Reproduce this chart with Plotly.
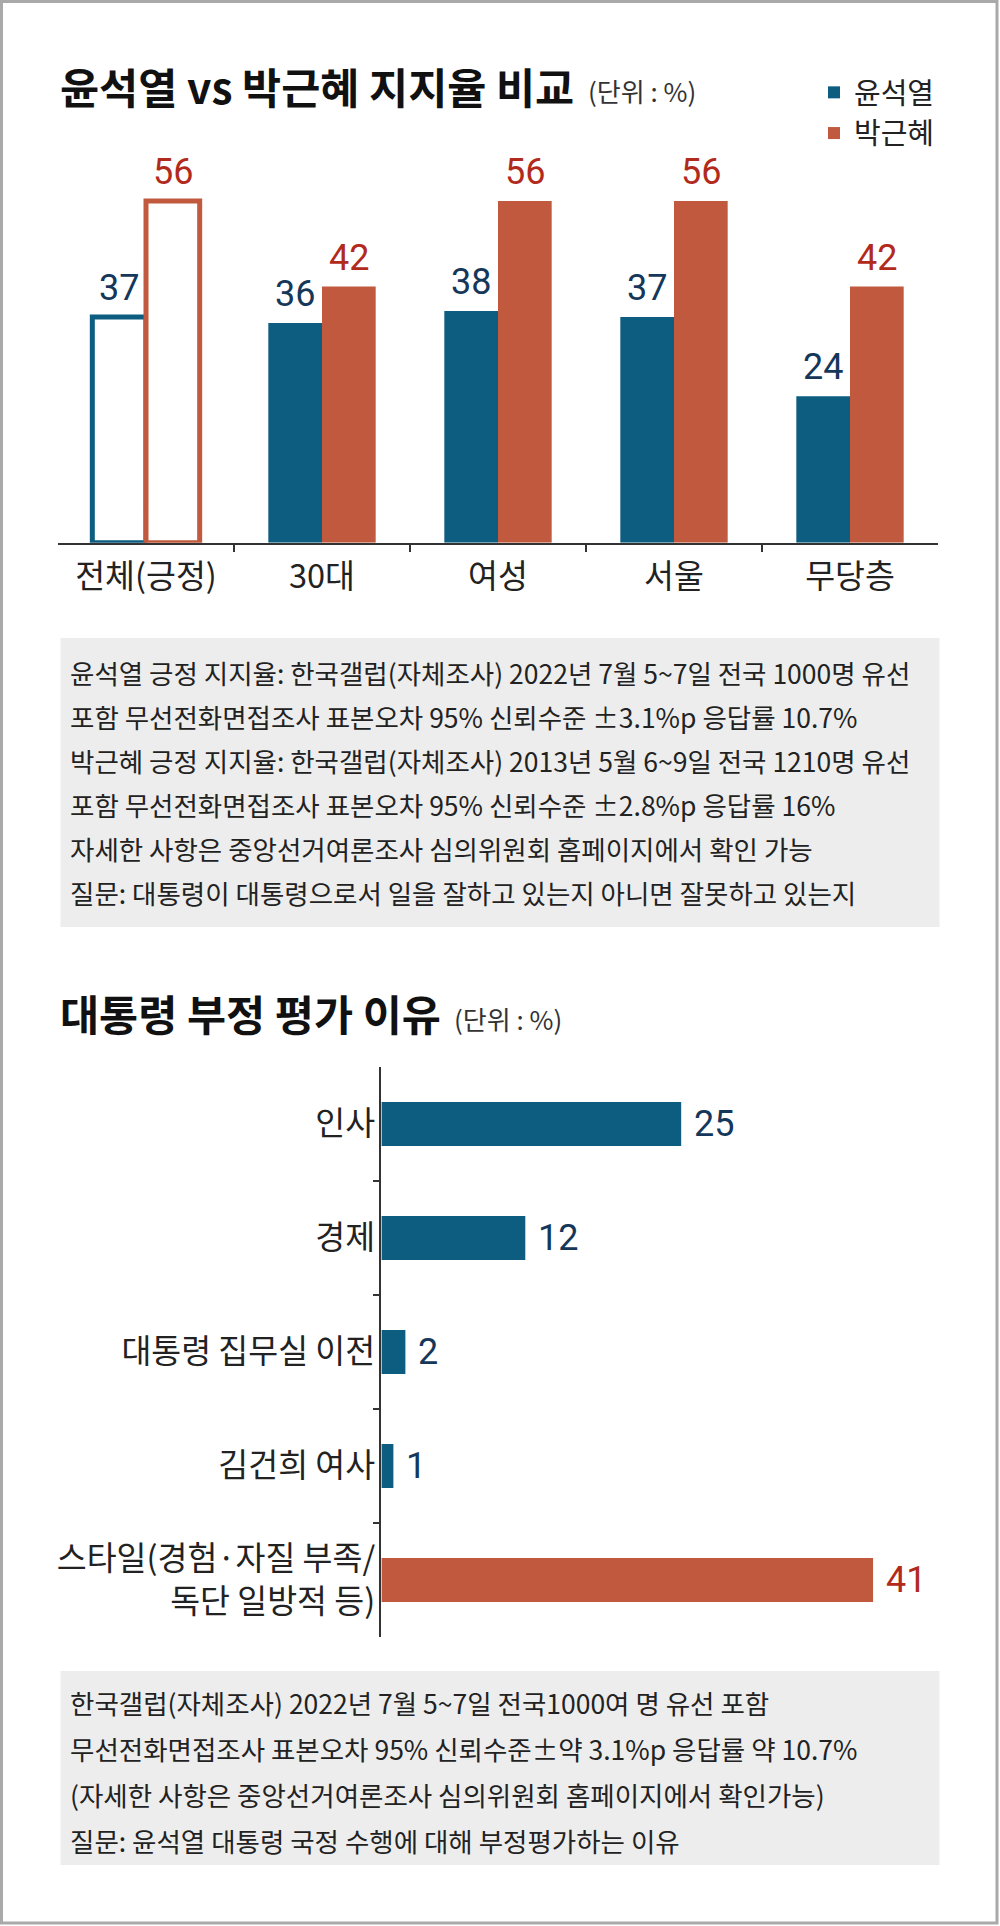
import plotly.graph_objects as go

W, H = 1000, 1926

# ---------------- data ----------------
categories = ["전체(긍정)", "30대", "여성", "서울", "무당층"]
series_names = ["윤석열", "박근혜"]
yoon_values = [37, 36, 38, 37, 24]
park_values = [56, 42, 56, 56, 42]

reasons = ["인사", "경제", "대통령 집무실 이전", "김건희 여사",
           "스타일(경험·자질 부족/<br>독단 일방적 등)"]
reason_values = [25, 12, 2, 1, 41]

title_top = "윤석열 vs 박근혜 지지율 비교"
title_bottom = "대통령 부정 평가 이유"
unit_text = "(단위 : %)"

notes_top = [
    "윤석열 긍정 지지율: 한국갤럽(자체조사) 2022년 7월 5~7일 전국 1000명 유선",
    "포함 무선전화면접조사 표본오차 95% 신뢰수준 ±3.1%p 응답률 10.7%",
    "박근혜 긍정 지지율: 한국갤럽(자체조사) 2013년 5월 6~9일 전국 1210명 유선",
    "포함 무선전화면접조사 표본오차 95% 신뢰수준 ±2.8%p 응답률 16%",
    "자세한 사항은 중앙선거여론조사 심의위원회 홈페이지에서 확인 가능",
    "질문: 대통령이 대통령으로서 일을 잘하고 있는지 아니면 잘못하고 있는지",
]
notes_bottom = [
    "한국갤럽(자체조사) 2022년 7월 5~7일 전국1000여 명 유선 포함",
    "무선전화면접조사 표본오차 95% 신뢰수준±약 3.1%p 응답률 약 10.7%",
    "(자세한 사항은 중앙선거여론조사 심의위원회 홈페이지에서 확인가능)",
    "질문: 윤석열 대통령 국정 수행에 대해 부정평가하는 이유",
]

# ---------------- style ----------------
KR = "Noto Sans CJK KR"
NUM = "Roboto, DejaVu Sans, sans-serif"
BLUE = "#0c5d80"
ORANGE = "#c0593d"
BLUE_TXT = "#15375a"
RED_TXT = "#b12a1c"
DARK = "#222222"
AXIS = "#333333"
NOTE_BG = "#ededed"
BARGAP_TOP = 0.39


def px(x):
    return x / W


def py(y):
    return 1 - y / H


fig = go.Figure()

# ---------- top chart: grouped vertical bars ----------
idx = list(range(len(categories)))
# first category drawn as outlined bars, the rest filled
fig.add_trace(go.Bar(x=idx[1:], y=yoon_values[1:], name=series_names[0],
                     offsetgroup="yoon", legendgroup="yoon",
                     marker=dict(color=BLUE, line=dict(width=0)),
                     hoverinfo="skip"))
fig.add_trace(go.Bar(x=idx[:1], y=yoon_values[:1], name=series_names[0],
                     offsetgroup="yoon", legendgroup="yoon", showlegend=False,
                     marker=dict(color="white", line=dict(color=BLUE, width=5)),
                     hoverinfo="skip"))
fig.add_trace(go.Bar(x=idx[1:], y=park_values[1:], name=series_names[1],
                     offsetgroup="park", legendgroup="park",
                     marker=dict(color=ORANGE, line=dict(width=0)),
                     hoverinfo="skip"))
fig.add_trace(go.Bar(x=idx[:1], y=park_values[:1], name=series_names[1],
                     offsetgroup="park", legendgroup="park", showlegend=False,
                     marker=dict(color="white", line=dict(color=ORANGE, width=5)),
                     hoverinfo="skip"))

# ---------- bottom chart: horizontal bars ----------
ridx = list(range(len(reasons)))
top_reason = reason_values.index(max(reason_values))
bar_colors = [ORANGE if i == top_reason else BLUE for i in ridx]
label_colors = [RED_TXT if i == top_reason else BLUE_TXT for i in ridx]
fig.add_trace(go.Bar(x=reason_values, y=ridx, orientation="h",
                     xaxis="x2", yaxis="y2", width=0.386,
                     marker=dict(color=bar_colors, line=dict(width=0)),
                     showlegend=False, hoverinfo="skip"))

annotations = []
half = (1 - BARGAP_TOP) / 4
for i, v in enumerate(yoon_values):
    annotations.append(dict(x=i - half, y=v, xref="x", yref="y", text=str(v),
                            showarrow=False, yanchor="bottom", yshift=6,
                            font=dict(family=NUM, size=36, color=BLUE_TXT)))
for i, v in enumerate(park_values):
    annotations.append(dict(x=i + half, y=v, xref="x", yref="y", text=str(v),
                            showarrow=False, yanchor="bottom", yshift=6,
                            font=dict(family=NUM, size=36, color=RED_TXT)))
for i, v in enumerate(reason_values):
    annotations.append(dict(x=v, y=i, xref="x2", yref="y2", text=str(v),
                            showarrow=False, xanchor="left", xshift=11,
                            font=dict(family=NUM, size=36, color=label_colors[i])))

# titles
for txt, ty, ux, uy in [(title_top, 86, 586, 90), (title_bottom, 1012, 452, 1018)]:
    annotations.append(dict(x=px(58), y=py(ty), xref="paper", yref="paper",
                            text=txt, showarrow=False, xanchor="left", yanchor="middle",
                            font=dict(family=KR, size=42.5, color="#111111", weight=700)))
    annotations.append(dict(x=px(ux), y=py(uy), xref="paper", yref="paper",
                            text=unit_text, showarrow=False, xanchor="left", yanchor="middle",
                            font=dict(family=KR, size=26, color="#333333")))

# notes
for lines, y0, step in [(notes_top, 672, 44.2), (notes_bottom, 1702, 46)]:
    for k, line in enumerate(lines):
        annotations.append(dict(x=px(68), y=py(y0 + k * step), xref="paper", yref="paper",
                                text=line, showarrow=False, xanchor="left", yanchor="middle",
                                font=dict(family=KR, size=26.5, color=DARK)))

shapes = [
    dict(type="rect", xref="paper", yref="paper", x0=px(60.5), x1=px(939.5),
         y0=py(927), y1=py(638), fillcolor=NOTE_BG, line=dict(width=0), layer="below"),
    dict(type="rect", xref="paper", yref="paper", x0=px(60.5), x1=px(939.5),
         y0=py(1865), y1=py(1671), fillcolor=NOTE_BG, line=dict(width=0), layer="below"),
    dict(type="rect", xref="paper", yref="paper", x0=px(1.5), x1=px(997),
         y0=py(1923), y1=py(1.5), fillcolor="rgba(0,0,0,0)",
         line=dict(color="#a9a9a9", width=3)),
]

boundaries = [i + 0.5 for i in range(len(categories) - 1)]
rboundaries = [i + 0.5 for i in range(len(reasons) - 1)]

fig.update_layout(
    width=W, height=H,
    margin=dict(l=0, r=0, t=0, b=0),
    paper_bgcolor="white", plot_bgcolor="white",
    barmode="group", bargap=BARGAP_TOP, bargroupgap=0,
    font=dict(family=KR, color=DARK),
    showlegend=True,
    legend=dict(x=px(814), y=py(67), xanchor="left", yanchor="top",
                font=dict(family=KR, size=29, color=DARK),
                traceorder="grouped", tracegroupgap=0,
                bgcolor="rgba(0,0,0,0)"),
    xaxis=dict(domain=[px(58), px(938)], range=[-0.5, len(categories) - 0.5],
               tickvals=idx, ticktext=categories, ticks="",
               tickfont=dict(family=KR, size=32.5, color=DARK),
               ticklabelstandoff=5,
               showline=True, linecolor=AXIS, linewidth=1.5,
               showgrid=False, zeroline=False, fixedrange=True,
               minor=dict(tickvals=boundaries, ticks="outside", ticklen=8,
                          tickcolor=AXIS, tickwidth=1.5, showgrid=False)),
    yaxis=dict(domain=[py(542.7), py(152.3)], range=[0, 64], visible=False,
               fixedrange=True),
    xaxis2=dict(domain=[px(381.4), px(939)], range=[0, 46.5], anchor="y2",
                visible=False, fixedrange=True),
    yaxis2=dict(domain=[py(1637), py(1067)], range=[len(reasons) - 0.5, -0.5],
                anchor="x2", tickvals=ridx, ticktext=reasons, ticks="",
                tickfont=dict(family=KR, size=32.5, color=DARK),
                ticklabelstandoff=-2,
                showline=True, linecolor=AXIS, linewidth=1.5,
                showgrid=False, zeroline=False, fixedrange=True,
                minor=dict(tickvals=rboundaries, ticks="outside", ticklen=7,
                           tickcolor=AXIS, tickwidth=1.5, showgrid=False)),
    annotations=annotations,
    shapes=shapes,
)

fig.write_html("out.html", config={"displayModeBar": False},
               post_script="document.body.style.margin='0';"
                           "document.body.style.overflow='hidden';")
